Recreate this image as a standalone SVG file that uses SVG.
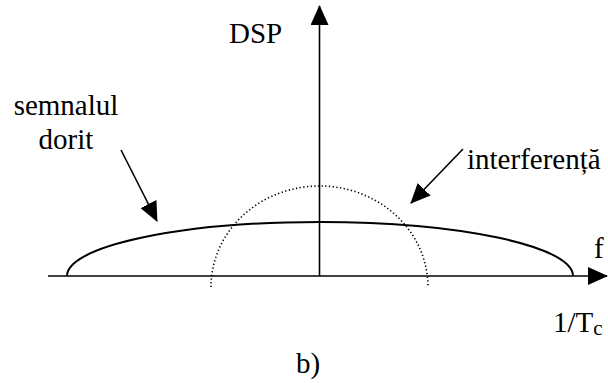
<svg xmlns="http://www.w3.org/2000/svg" width="608" height="383" viewBox="0 0 608 383">
<style>
.t { font-family: "Liberation Serif", "Times New Roman", serif; font-size: 29px; fill: #000; }
.ln { stroke: #000; stroke-width: 1.6; fill: none; }
.curve { stroke: #000; stroke-width: 2; fill: none; }
.dot { stroke: #000; stroke-width: 1.6; fill: none; stroke-dasharray: 1.3 2.4; }
</style>
<defs>
<marker id="ah" markerUnits="userSpaceOnUse" markerWidth="20" markerHeight="18" refX="19" refY="9" orient="auto">
<path d="M0,0 L20,9 L0,18 z" fill="#000"/>
</marker>
</defs>
<g id="axes">
<line class="ln" x1="48" y1="276" x2="607" y2="276" marker-end="url(#ah)"/>
<line class="ln" x1="319.5" y1="276" x2="319.5" y2="6" marker-end="url(#ah)"/>
</g>
<g id="curves">
<path class="curve" d="M67,276 A253,54 0 0 1 573,276"/>
<path class="dot" d="M211,287 A108.5,101 0 0 1 428,287"/>
</g>
<g id="connectors">
<line class="ln" x1="121" y1="150" x2="157" y2="221" marker-end="url(#ah)"/>
<line class="ln" x1="463" y1="149" x2="411" y2="203" marker-end="url(#ah)"/>
</g>
<g id="label-dsp"><text class="t" x="229" y="43">DSP</text></g>
<g id="label-semnal"><text class="t" x="66" y="115" text-anchor="middle">semnalul</text><text class="t" x="66" y="149" text-anchor="middle">dorit</text></g>
<g id="label-interf"><text class="t" x="467" y="169">interferență</text></g>
<g id="label-f"><text class="t" x="594" y="258">f</text></g>
<g id="label-tc"><text class="t" x="553" y="332">1/T<tspan font-size="21" dy="3">c</tspan></text></g>
<g id="label-b"><text class="t" x="296" y="373">b)</text></g>
</svg>
